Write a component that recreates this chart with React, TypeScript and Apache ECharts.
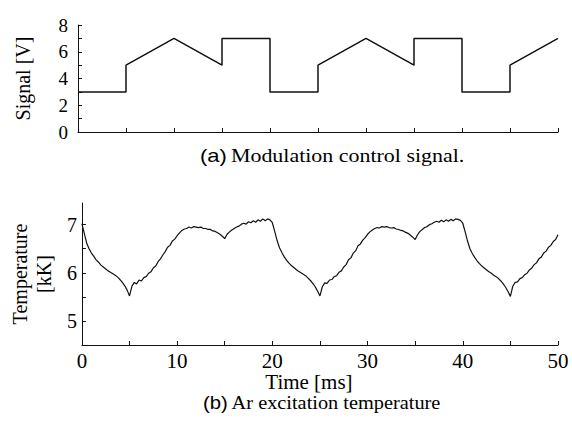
import React, { useEffect, useRef } from "react";
import * as echarts from "echarts";

// ---- Data ----
// (a) Modulation control signal: time [ms] and signal [V]
const signalTime = [0, 5, 5, 10, 15, 15, 20, 20, 25, 25, 30, 35, 35, 40, 40, 45, 45, 50];
const signalValue = [3, 3, 5, 7, 5, 7, 7, 3, 3, 5, 7, 5, 7, 7, 3, 3, 5, 7];

// (b) Ar excitation temperature [kK], sampled every 0.25 ms from 0 to 50 ms
const tempStart = 0;
const tempStep = 0.25;
const tempValues = [
  // 0 - 4.75
  7.02, 6.82, 6.62, 6.5, 6.41, 6.34, 6.27, 6.22, 6.16, 6.12, 6.08, 6.04, 6.01, 5.98, 5.95, 5.91, 5.86, 5.8, 5.73, 5.64,
  // 5 - 9.75
  5.52, 5.72, 5.8, 5.77, 5.85, 5.83, 5.9, 5.92, 5.99, 6.02, 6.1, 6.14, 6.23, 6.29, 6.37, 6.44, 6.53, 6.57, 6.66, 6.7,
  // 10 - 14.75
  6.77, 6.83, 6.88, 6.91, 6.92, 6.95, 6.93, 6.96, 6.95, 6.94, 6.95, 6.92, 6.92, 6.9, 6.9, 6.87, 6.86, 6.83, 6.8, 6.76,
  // 15 - 19.75
  6.71, 6.8, 6.85, 6.89, 6.92, 6.95, 6.97, 7.01, 7.03, 7.01, 7.06, 7.04, 7.08, 7.05, 7.1, 7.07, 7.12, 7.08, 7.12, 7.1,
  // 20 - 24.75
  7.04, 6.86, 6.67, 6.52, 6.42, 6.33, 6.26, 6.2, 6.15, 6.11, 6.07, 6.03, 6.0, 5.97, 5.94, 5.89, 5.84, 5.78, 5.71, 5.62,
  // 25 - 29.75
  5.52, 5.71, 5.79, 5.78, 5.85, 5.86, 5.92, 5.94, 6.01, 6.04, 6.12, 6.17, 6.27, 6.31, 6.41, 6.46, 6.56, 6.6, 6.68, 6.73,
  // 30 - 34.75
  6.8, 6.85, 6.89, 6.92, 6.94, 6.93, 6.96, 6.95, 6.96, 6.94, 6.93, 6.94, 6.91, 6.9, 6.88, 6.87, 6.84, 6.82, 6.78, 6.74,
  // 35 - 39.75
  6.69, 6.79, 6.86, 6.9, 6.94, 6.96, 7.0, 7.02, 7.05, 7.07, 7.05, 7.09, 7.06, 7.1, 7.07, 7.11, 7.08, 7.12, 7.11, 7.09,
  // 40 - 44.75
  7.03, 6.85, 6.66, 6.5, 6.4, 6.32, 6.25, 6.19, 6.14, 6.1, 6.06, 6.02, 5.99, 5.95, 5.92, 5.88, 5.83, 5.77, 5.7, 5.61,
  // 45 - 50
  5.51, 5.72, 5.8, 5.81, 5.88, 5.9, 5.96, 5.99, 6.06, 6.1, 6.17, 6.21, 6.29, 6.33, 6.41, 6.45, 6.53, 6.57, 6.65, 6.69,
  6.79,
];

const signalTicksY = { min: 0, max: 8, interval: 2 };
const tempLabelValues = [5, 6, 7];
const tempTickValues = [5, 5.5, 6, 6.5, 7];

const captionA = { label: "(a)", text: "Modulation control signal." };
const captionB = { label: "(b)", text: "Ar excitation temperature" };
const yNameA = "Signal [V]";
const yNameB = "Temperature\n[kK]";
const xNameB = "Time [ms]";

const SERIF = "'Liberation Serif', 'Times New Roman', serif";
const SANS = "'Liberation Sans', Arial, sans-serif";
const INK = "#111";

export default function App() {
  const ref = useRef<HTMLDivElement>(null);

  useEffect(() => {
    if (!ref.current) return;
    const chart = echarts.init(ref.current, undefined, { renderer: "svg" });

    const signalData = signalTime.map((t, i) => [t, signalValue[i]]);
    const tempData = tempValues.map((v, i) => [tempStart + i * tempStep, v]);

    const axisLine = { show: true, lineStyle: { color: INK, width: 1 } };

    chart.setOption({
      animation: false,
      backgroundColor: "#fff",
      textStyle: { fontFamily: SERIF, color: "#000" },
      grid: [
        { left: 78, top: 25, width: 480, height: 107 },
        { left: 78, top: 203, width: 480, height: 142 },
      ],
      xAxis: [
        {
          type: "value",
          gridIndex: 0,
          min: 0,
          max: 50,
          interval: 5,
          axisLine,
          axisTick: { show: true, inside: true, length: 4, lineStyle: { color: INK } },
          axisLabel: { show: false },
          splitLine: { show: false },
        },
        {
          type: "value",
          gridIndex: 1,
          min: 0,
          max: 50,
          interval: 10,
          axisLine,
          axisTick: { show: true, inside: true, length: 4, lineStyle: { color: INK } },
          minorTick: { show: true, splitNumber: 2, length: 4, lineStyle: { color: INK } },
          axisLabel: { fontFamily: SERIF, fontSize: 21, color: "#000", margin: 5 },
          splitLine: { show: false },
          name: xNameB,
          nameLocation: "middle",
          nameGap: 23,
          nameTextStyle: { fontFamily: SERIF, fontSize: 21, color: "#000", padding: [0, 22, 0, 0] },
        },
      ],
      yAxis: [
        {
          type: "value",
          gridIndex: 0,
          min: signalTicksY.min,
          max: signalTicksY.max,
          interval: signalTicksY.interval,
          axisLine,
          axisTick: { show: true, inside: true, length: 4, lineStyle: { color: INK } },
          minorTick: { show: true, splitNumber: 2, length: 4, lineStyle: { color: INK } },
          axisLabel: { fontFamily: SERIF, fontSize: 19, color: "#000", margin: 10 },
          splitLine: { show: false },
          name: yNameA,
          nameLocation: "middle",
          nameGap: 45,
          nameTextStyle: { fontFamily: SERIF, fontSize: 20, color: "#000" },
        },
        {
          type: "value",
          gridIndex: 1,
          min: 4.5,
          max: 7.45,
          axisLine,
          axisTick: {
            show: true,
            inside: true,
            length: 4,
            lineStyle: { color: INK },
            customValues: tempTickValues,
          },
          axisLabel: {
            fontFamily: SERIF,
            fontSize: 20,
            color: "#000",
            margin: 5,
            customValues: tempLabelValues,
          },
          splitLine: { show: false },
          name: yNameB,
          nameLocation: "middle",
          nameGap: 23,
          nameTextStyle: { fontFamily: SERIF, fontSize: 20, lineHeight: 24, color: "#000" },
        },
      ],
      series: [
        {
          type: "line",
          xAxisIndex: 0,
          yAxisIndex: 0,
          data: signalData,
          symbol: "none",
          lineStyle: { color: INK, width: 1.5 },
        },
        {
          type: "line",
          xAxisIndex: 1,
          yAxisIndex: 1,
          data: tempData,
          symbol: "none",
          lineStyle: { color: INK, width: 1.2 },
        },
      ],
      graphic: [
        {
          type: "text",
          x: 200,
          y: 156,
          scaleX: 1.22,
          style: {
            text: `{s|${captionA.label}} {r|${captionA.text}}`,
            align: "left",
            verticalAlign: "middle",
            fill: "#000",
            rich: {
              s: { fontFamily: SANS, fontSize: 18, fill: "#000" },
              r: { fontFamily: SERIF, fontSize: 18, fill: "#000" },
            },
          },
        },
        {
          type: "text",
          x: 203,
          y: 403,
          scaleX: 1.13,
          style: {
            text: `{s|${captionB.label}} {r|${captionB.text}}`,
            align: "left",
            verticalAlign: "middle",
            fill: "#000",
            rich: {
              s: { fontFamily: SANS, fontSize: 18, fill: "#000" },
              r: { fontFamily: SERIF, fontSize: 18, fill: "#000" },
            },
          },
        },
      ],
    });

    return () => chart.dispose();
  }, []);

  return (
    <div
      ref={ref}
      style={{ position: "fixed", left: 0, top: 0, width: 572, height: 422, background: "#fff" }}
    />
  );
}
